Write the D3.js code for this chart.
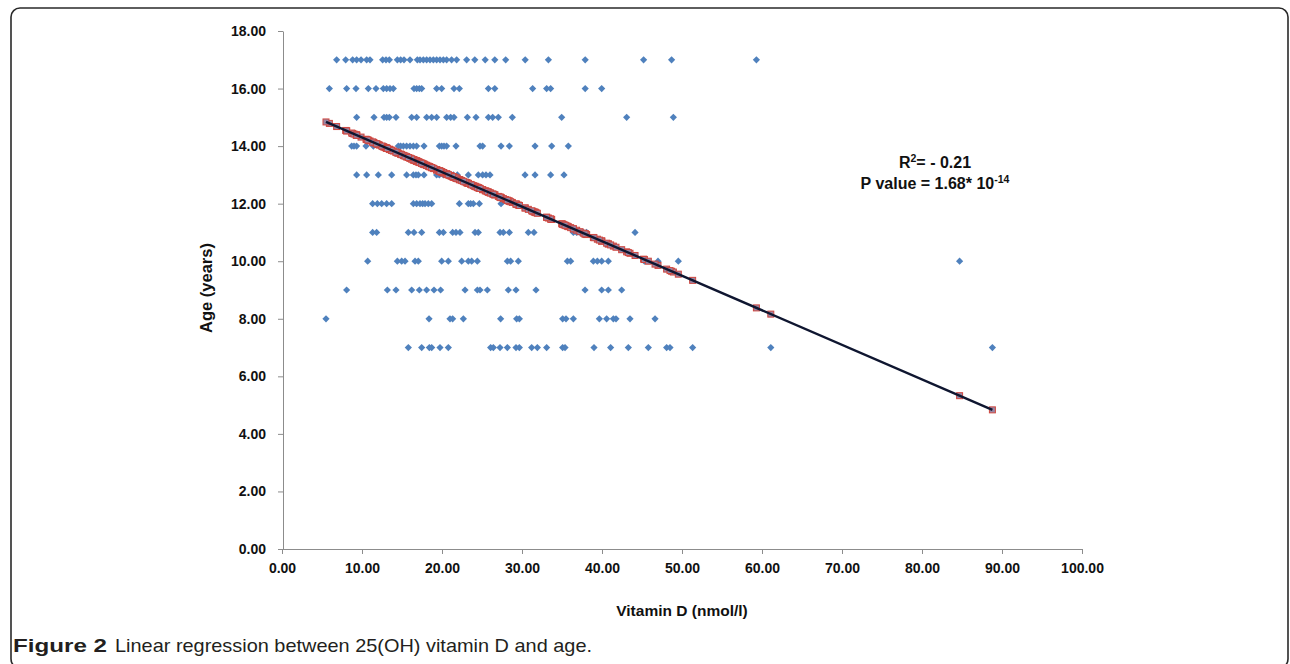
<!DOCTYPE html>
<html>
<head>
<meta charset="utf-8">
<script src="https://cdn.jsdelivr.net/npm/d3@7/dist/d3.min.js"></script>
<style>
  html, body { margin: 0; padding: 0; background: #fff; }
  svg { display: block; }
</style>
</head>
<body>
<svg id="chart" width="1290" height="664"></svg>
<script>
// ---------- DATA ----------
const ageLevels = [17, 16, 15, 14, 13, 12, 11, 10, 9, 8, 7];

const vitD_age17 = [6.83, 7.96, 8.83, 9.33, 9.88, 10.58, 11.0, 12.58, 13.0, 13.42, 14.42, 14.83, 15.25, 16.0, 16.92, 17.25, 17.67, 18.08, 18.5, 18.92, 19.33, 19.75, 20.17, 20.58, 21.2, 21.83, 23.08, 24.1, 25.4, 26.6, 27.96, 30.4, 33.3, 37.9, 45.2, 48.7, 59.3];
const vitD_age16 = [5.92, 8.08, 9.25, 10.79, 11.75, 12.67, 13.08, 13.5, 13.92, 16.5, 16.83, 17.17, 17.46, 19.33, 19.96, 21.5, 22.17, 25.8, 26.6, 31.33, 33.08, 33.58, 37.9, 39.96];
const vitD_age15 = [9.33, 11.5, 12.75, 13.08, 13.42, 14.25, 16.21, 16.83, 18.08, 18.71, 19.33, 20.58, 21.08, 21.5, 23.17, 24.25, 25.8, 26.33, 27.04, 28.79, 34.96, 43.08, 48.92];
const vitD_age14 = [8.71, 9.0, 9.33, 10.5, 11.42, 12.2, 12.9, 14.54, 14.83, 15.17, 15.58, 16.0, 16.42, 16.83, 17.75, 19.67, 19.96, 20.25, 20.58, 21.75, 24.75, 25.08, 27.38, 28.42, 31.63, 33.71, 35.79];
const vitD_age13 = [9.33, 10.58, 12.04, 13.71, 15.58, 16.42, 16.75, 17.04, 17.75, 19.33, 19.67, 20.17, 20.58, 21.0, 21.42, 21.92, 23.29, 24.54, 25.08, 25.5, 26.0, 30.38, 31.63, 33.58, 35.25];
const vitD_age12 = [11.33, 11.92, 12.46, 13.08, 13.71, 16.42, 16.83, 17.25, 17.58, 17.88, 18.29, 18.71, 22.17, 23.29, 23.58, 23.92, 24.67, 27.38];
const vitD_age11 = [11.33, 11.83, 15.79, 16.5, 17.46, 19.67, 20.17, 21.33, 21.75, 22.25, 24.13, 24.54, 27.25, 27.67, 28.42, 30.79, 31.5, 36.42, 36.83, 37.25, 37.67, 38.08, 44.13];
const vitD_age10 = [10.71, 14.42, 14.96, 15.38, 16.63, 17.04, 19.96, 20.79, 22.46, 23.29, 23.71, 24.42, 28.17, 28.58, 29.54, 35.67, 36.08, 38.92, 39.42, 39.96, 40.79, 45.3, 47.0, 49.54, 84.7];
const vitD_age9 = [8.08, 13.17, 14.25, 16.21, 17.17, 18.08, 19.0, 19.83, 22.88, 24.42, 24.75, 25.67, 28.29, 29.25, 31.75, 37.88, 39.96, 40.79, 42.46];
const vitD_age8 = [5.5, 18.38, 21.0, 21.33, 22.67, 27.33, 29.33, 29.67, 35.08, 35.5, 36.42, 39.67, 40.58, 41.42, 41.75, 43.5, 46.63];
const vitD_age7 = [15.79, 17.46, 18.42, 18.71, 19.75, 20.79, 26.08, 26.42, 27.25, 28.17, 29.25, 29.67, 31.21, 31.92, 33.08, 35.08, 35.38, 39.0, 41.08, 43.29, 45.79, 48.08, 48.5, 51.33, 61.1, 88.8];

const vitDByAge = [vitD_age17, vitD_age16, vitD_age15, vitD_age14, vitD_age13, vitD_age12,
                   vitD_age11, vitD_age10, vitD_age9, vitD_age8, vitD_age7];

// Regression (age = a + b * vitD)
const fitIntercept = 15.50;
const fitSlope = -0.1201;

const xTicks = [0, 10, 20, 30, 40, 50, 60, 70, 80, 90, 100];
const yTicks = [0, 2, 4, 6, 8, 10, 12, 14, 16, 18];

const xTitle = "Vitamin D (nmol/l)";
const yTitle = "Age (years)";
const r2Text = "- 0.21";
const pText = "1.68* 10";
const pExp = "-14";
const captionBold = "Figure 2";
const captionRest = "Linear regression between 25(OH) vitamin D and age.";

(function draw() {
  const svg = d3.select("#chart");
  const plotL = 282, plotR = 1082, plotT = 31, plotB = 549;
  const axisColor = "#8c8c8c";
  const tickFont = "'Liberation Sans', Arial, sans-serif";

  const x = d3.scaleLinear().domain([0, 100]).range([plotL, plotR]);
  const y = d3.scaleLinear().domain([0, 18]).range([plotB, plotT]);

  // Frame
  svg.append("rect")
    .attr("x", 11).attr("y", 8)
    .attr("width", 1277).attr("height", 660)
    .attr("rx", 9).attr("ry", 9)
    .attr("fill", "none").attr("stroke", "#2a2a2a").attr("stroke-width", 1.6);

  // Axes
  const xAxis = d3.axisBottom(x).tickValues(xTicks).tickFormat(d3.format(".2f")).tickSizeInner(5).tickSizeOuter(0).tickPadding(9);
  const yAxis = d3.axisLeft(y).tickValues(yTicks).tickFormat(d3.format(".2f")).tickSizeInner(5).tickSizeOuter(0).tickPadding(12);

  const gx = svg.append("g").attr("transform", `translate(0,${plotB})`).call(xAxis);
  const gy = svg.append("g").attr("transform", `translate(${plotL + 1},0)`).call(yAxis);

  [gx, gy].forEach(g => {
    g.selectAll("path.domain").attr("stroke", axisColor).attr("stroke-width", 1);
    g.selectAll(".tick line").attr("stroke", axisColor).attr("stroke-width", 1);
    g.selectAll(".tick text")
      .attr("fill", "#111")
      .style("font-family", tickFont)
      .style("font-weight", "bold")
      .style("font-size", "14px");
  });

  // Axis titles
  svg.append("text")
    .attr("x", 682).attr("y", 616)
    .attr("text-anchor", "middle")
    .style("font-family", tickFont).style("font-weight", "bold").style("font-size", "15.5px")
    .attr("fill", "#111")
    .text(xTitle);

  svg.append("text")
    .attr("transform", "translate(212,288) rotate(-90)")
    .attr("text-anchor", "middle")
    .style("font-family", tickFont).style("font-weight", "bold").style("font-size", "16.5px")
    .attr("fill", "#111")
    .text(yTitle);

  // Observed points (blue diamonds)
  const points = [];
  ageLevels.forEach((a, i) => vitDByAge[i].forEach(v => points.push({v, a})));

  const squareDiamond = {
    draw(ctx, size) {
      const r = Math.sqrt(size / 2);
      ctx.moveTo(0, -r); ctx.lineTo(r, 0); ctx.lineTo(0, r); ctx.lineTo(-r, 0); ctx.closePath();
    }
  };

  svg.append("g").selectAll("path")
    .data(points)
    .join("path")
    .attr("d", d3.symbol().type(squareDiamond).size(26))
    .attr("transform", d => `translate(${x(d.v)},${y(d.a)})`)
    .attr("fill", "#4F81BD");

  // Predicted values (red-edged squares on the fitted line)
  const predicted = points.map(d => ({v: d.v, a: fitIntercept + fitSlope * d.v}));
  svg.append("g").selectAll("rect")
    .data(predicted)
    .join("rect")
    .attr("x", d => x(d.v) - 3).attr("y", d => y(d.a) - 3)
    .attr("width", 6).attr("height", 6)
    .attr("fill", "#9a86a4")
    .attr("stroke", "#d0473f").attr("stroke-width", 1);

  // Fitted line
  const vExtent = d3.extent(points, d => d.v);
  svg.append("path")
    .datum(vExtent.map(v => ({v, a: fitIntercept + fitSlope * v})))
    .attr("d", d3.line().x(d => x(d.v)).y(d => y(d.a)))
    .attr("stroke", "#0f1630").attr("stroke-width", 2.4).attr("fill", "none");

  // Annotation
  const ann = svg.append("g")
    .style("font-family", tickFont).style("font-weight", "bold").style("font-size", "16px")
    .attr("fill", "#111");
  const t1 = ann.append("text").attr("x", 935).attr("y", 168).attr("text-anchor", "middle");
  t1.append("tspan").text("R");
  t1.append("tspan").attr("dy", -6).style("font-size", "10.5px").text("2");
  t1.append("tspan").attr("dy", 6).text("= " + r2Text);
  const t2 = ann.append("text").attr("x", 935).attr("y", 189).attr("text-anchor", "middle");
  t2.append("tspan").text("P value = " + pText);
  t2.append("tspan").attr("dy", -6).style("font-size", "10.5px").text(pExp);

  // Caption
  const capFont = "'Liberation Sans', Arial, sans-serif";
  svg.append("text")
    .attr("x", 13).attr("y", 652)
    .attr("textLength", 94).attr("lengthAdjust", "spacingAndGlyphs")
    .style("font-family", capFont).style("font-size", "19px").style("font-weight", "bold")
    .attr("fill", "#231f20")
    .text(captionBold);
  svg.append("text")
    .attr("x", 115).attr("y", 652)
    .attr("textLength", 477).attr("lengthAdjust", "spacingAndGlyphs")
    .style("font-family", capFont).style("font-size", "19px")
    .attr("fill", "#231f20")
    .text(captionRest);
})();
</script>
</body>
</html>
